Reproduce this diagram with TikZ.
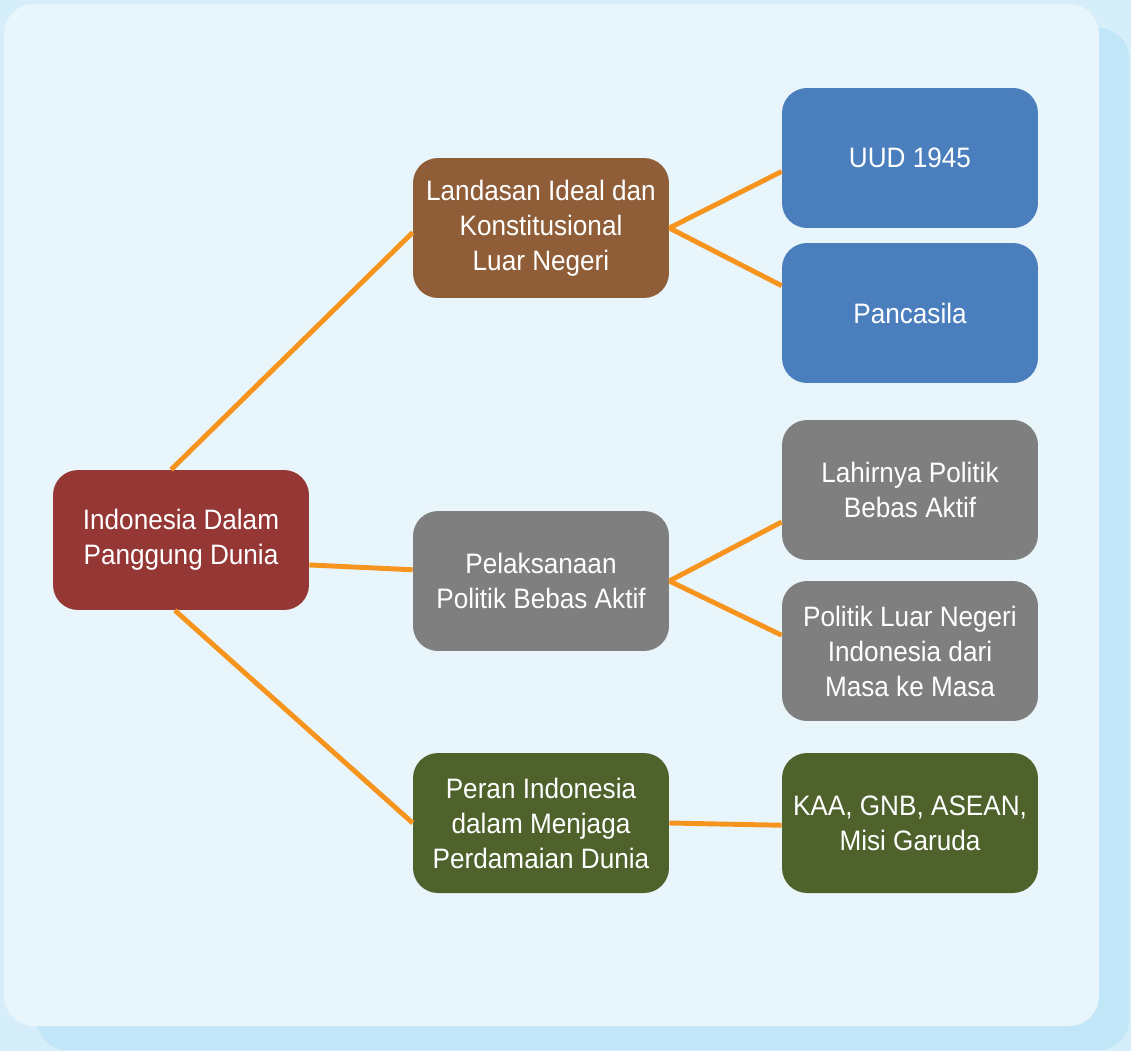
\documentclass[tikz,border=0pt]{standalone}
\usepackage{fontspec}
\setmainfont{Liberation Sans}[FakeStretch=0.93]
\usetikzlibrary{positioning}
\definecolor{outerblue}{RGB}{213,238,250}
\definecolor{shadowblue}{RGB}{192,230,247}
\definecolor{panelblue}{RGB}{232,245,251}
\definecolor{rootred}{RGB}{149,55,53}
\definecolor{brownbox}{RGB}{143,94,56}
\definecolor{bluebox}{RGB}{74,126,189}
\definecolor{graybox}{RGB}{127,127,127}
\definecolor{greenbox}{RGB}{79,98,43}
\definecolor{linkorange}{RGB}{247,148,30}
\tikzset{
box/.style={rectangle, rounded corners=0.5cm, minimum width=5.12cm, minimum height=2.8cm, text=white, align=center, font=\fontsize{16}{19.9}\selectfont}, % every coloured block
link/.style={draw=linkorange, line width=2.8pt}, % the orange connectors
}

\begin{document}
\begin{tikzpicture}[x=0.02cm, y=-0.02cm]
\useasboundingbox (0,0) rectangle (1131,1051);
\fill[outerblue] (0,0) rectangle (1131,1051);
\fill[shadowblue, rounded corners=0.6cm] (37,28) rectangle (1129,1050);
\fill[panelblue, rounded corners=0.6cm] (4,4) rectangle (1099,1026);

\node[box, fill=rootred] at (181,540) (root) {Indonesia Dalam\\Panggung Dunia};

\node[box, fill=brownbox] at (541,228) (landasan) {Landasan Ideal dan\\Konstitusional\\Luar Negeri};
\node[box, fill=graybox] at (541,581) (pelaksanaan) {Pelaksanaan\\Politik Bebas Aktif};
\node[box, fill=greenbox] at (541,823) (peran) {Peran Indonesia\\dalam Menjaga\\Perdamaian Dunia};

\node[box, fill=bluebox] at (910,158) (uud) {UUD 1945};
\node[box, fill=bluebox] at (910,313) (pancasila) {Pancasila};
\node[box, fill=graybox] at (910,490) (lahirnya) {Lahirnya Politik\\Bebas Aktif};
\node[box, fill=graybox] at (910,651) (luarnegeri) {Politik Luar Negeri\\Indonesia dari\\Masa ke Masa};
\node[box, fill=greenbox] at (910,823) (kaa) {KAA, GNB, ASEAN,\\Misi Garuda};

\draw[link] (root.98) edge (landasan.182);
\draw[link] (root.-11) edge (pelaksanaan.175);
\draw[link] (root.-95) edge (peran.west);
\draw[link] (landasan.east) edge (uud.186);
\draw[link] (landasan.east) edge (pancasila.168);
\draw[link] (pelaksanaan.east) edge (lahirnya.194);
\draw[link] (pelaksanaan.east) edge (luarnegeri.173);
\draw[link] (peran.east) edge (kaa.181);
\end{tikzpicture}
\end{document}
